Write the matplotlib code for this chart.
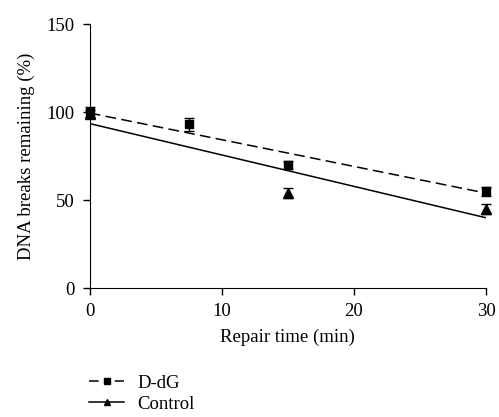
import numpy as np
import matplotlib
matplotlib.use("Agg")
import matplotlib.pyplot as plt
from matplotlib.lines import Line2D

plt.rcParams['font.family'] = ['Liberation Serif', 'DejaVu Serif']

# data
time_min = [0, 7.5, 15, 30]
ddg_mean = [100, 93, 70, 55]
ddg_err = [3, 3.5, 2.5, 2.5]
ctrl_time = [0, 15, 30]
ctrl_mean = [99, 54, 45]
ctrl_err = [2, 3, 3]
fit_x = [0, 30]
ddg_fit = [99.5, 54]
ctrl_fit = [93.5, 40]

fig = plt.figure(figsize=(4.99, 4.17), dpi=100)
ax = fig.add_axes([0.18, 0.309, 0.794, 0.633])

ax.plot(fit_x, ddg_fit, color='black', lw=1.1, ls=(0, (7, 3.5)))
ax.plot(fit_x, ctrl_fit, color='black', lw=1.1)
ax.errorbar(ctrl_time, ctrl_mean, yerr=ctrl_err, fmt='^', color='black',
            ms=6.5, capsize=3.5, elinewidth=1, capthick=1, clip_on=False, zorder=3)
ax.errorbar(time_min, ddg_mean, yerr=ddg_err, fmt='s', color='black',
            ms=6, capsize=3.5, elinewidth=1, capthick=1, clip_on=False, zorder=4)

ax.set_xlim(0, 30)
ax.set_ylim(0, 150)
ax.set_xticks([0, 10, 20, 30])
ax.set_yticks([0, 50, 100, 150])
ax.spines['top'].set_visible(False)
ax.spines['right'].set_visible(False)
ax.tick_params(direction='out', length=5, width=1, labelsize=13.5, pad=6)
ax.set_xlabel('Repair time (min)', fontsize=13.5, labelpad=6)
ax.set_ylabel('DNA breaks remaining (%)', fontsize=13.5, labelpad=8)

# legend handles: "-■-" and "—▲—"
handles = [
    Line2D([], [], color='black', lw=1.1, ls=(0, (6.3, 10.6, 6.3, 10)), marker='s', ms=5),
    Line2D([], [], color='black', lw=1.1, marker='^', ms=5),
]
fig.legend(handles, ['D-dG', 'Control'], loc='upper left',
           bbox_to_anchor=(0.144, 0.142), frameon=False, fontsize=13.5,
           handlelength=1.9, handletextpad=0.7, labelspacing=0.2)

fig.savefig('out.png', dpi=100)
